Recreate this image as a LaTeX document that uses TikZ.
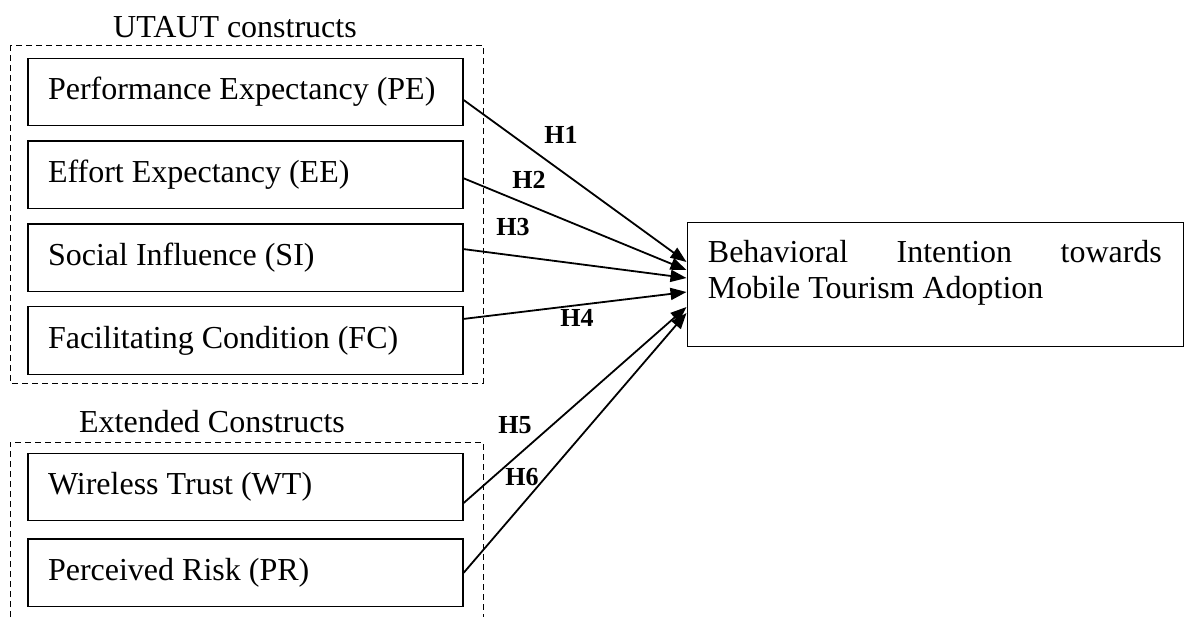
\documentclass[tikz,border=0pt]{standalone}
\usepackage{fontspec}
\setmainfont{Liberation Serif}
\usetikzlibrary{arrows.meta,positioning}

\begin{document}
\begin{tikzpicture}[x=0.5pt,y=-0.5pt,>={Triangle[length=8pt,width=6pt]},
 font=\fontsize{16pt}{18pt}\selectfont,
 rec/.style={draw,line width=0.65pt,minimum width=217.5pt,minimum height=33.75pt,text width=197.5pt,inner xsep=10pt,align=flush left},
 grp/.style={draw,dash pattern=on 3pt off 2pt,line width=0.5pt},
 hyp/.style={font=\fontsize{13pt}{15pt}\selectfont\bfseries,inner sep=0pt},
 link/.style={->,line width=0.9pt}]
\useasboundingbox (0,0) rectangle (1188,617);
% UTAUT constructs
\draw[grp] (10,45) rectangle (483,383);
\node (utaut) at (235,27) {UTAUT constructs};
\node[rec] (pe) at (245.5,92) {Performance Expectancy (PE)};
\node[rec,below=7pt of pe] (ee) {Effort Expectancy (EE)};
\node[rec,below=7pt of ee] (si) {Social Influence (SI)};
\node[rec,below=7pt of si] (fc) {Facilitating Condition (FC)};
% extended constructs
\draw[grp] (10,617) -- (10,442) -- (483,442) -- (483,617);
\node (ext) at (212,422) {Extended Constructs};
\node[rec] (wt) at (245.5,487) {Wireless Trust (WT)};
\node[rec,below=8.5pt of wt] (pr) {Perceived Risk (PR)};
% outcome
\node[draw,line width=0.5pt,minimum width=248pt,minimum height=62pt] (bi) at (935,284) {};
\node[anchor=north west,text width=227pt,align=flush left,inner sep=0pt] (bitxt) at ([xshift=10.5pt,yshift=-9pt]bi.north west) {Behavioral\hfill Intention\hfill towards\\Mobile Tourism Adoption};
\coordinate (t1) at ([yshift=11pt]bi.west);
\coordinate (t2) at ([yshift=7pt]bi.west);
\coordinate (t3) at ([yshift=3pt]bi.west);
\coordinate (t4) at ([yshift=-4pt]bi.west);
\coordinate (t5) at ([yshift=-11.5pt]bi.west);
\coordinate (t6) at ([yshift=-14.5pt]bi.west);
\draw[link] ([yshift=-4pt]pe.east) -- (t1);
\draw[link] ([yshift=-1.75pt]ee.east) -- (t2);
\draw[link] ([yshift=4.25pt]si.east) -- (t3);
\draw[link] ([yshift=10.75pt]fc.east) -- (t4);
\draw[link] ([yshift=-8pt]wt.east) -- (t5);
\draw[link] (pr.east) -- (t6);
% hypotheses
\node[hyp] (h1) at (561,135) {H1};
\node[hyp] (h2) at (529,180) {H2};
\node[hyp] (h3) at (513,227) {H3};
\node[hyp] (h4) at (577,318) {H4};
\node[hyp] (h5) at (515,425) {H5};
\node[hyp] (h6) at (522,477) {H6};
\end{tikzpicture}
\end{document}
